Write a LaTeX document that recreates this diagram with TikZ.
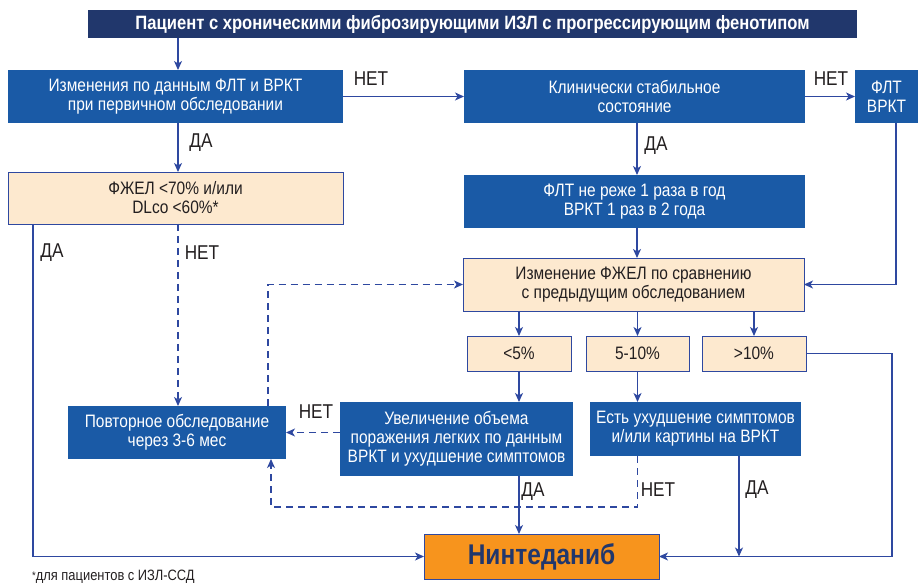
\documentclass[tikz,border=0pt]{standalone}
\usepackage{fontspec}
\setmainfont{Liberation Sans}[FakeStretch=0.86]
\usetikzlibrary{arrows.meta,calc}
\definecolor{navy}{HTML}{21376C}
\definecolor{boxblue}{HTML}{1A5AA6}
\definecolor{beige}{HTML}{FDE9CF}
\definecolor{lineblue}{HTML}{2E48A0}
\definecolor{orng}{HTML}{F7941D}
\definecolor{txt}{HTML}{231F20}
\begin{document}
\begin{tikzpicture}[x=1pt,y=1pt,
  base/.style={inner sep=0pt,outer sep=0pt,align=center,font=\fontsize{18}{19}\selectfont},
  bluebox/.style={base,fill=boxblue,text=white},
  beigebox/.style={base,fill=beige,draw=lineblue,line width=0.9pt,text=txt},
  titlebox/.style={base,fill=navy,text=white,font=\fontsize{19.3}{21}\selectfont\bfseries},
  finalbox/.style={base,fill=orng,draw=lineblue,line width=0.9pt,text=navy,font=\fontsize{28.5}{30}\selectfont\bfseries},
  lbl/.style={text=txt,font=\fontsize{20}{22}\selectfont,inner sep=0pt},
  arr/.style={draw=lineblue,line width=1.2pt,-{Stealth[length=9pt,width=8pt,inset=2.5pt]}},
  darr/.style={arr,dash pattern=on 7pt off 5pt},
]
\useasboundingbox (0,0) rectangle (919,-585);
\node[titlebox,minimum width=769pt,minimum height=28pt] (title) at (472.5,-24) {Пациент с хроническими фиброзирующими ИЗЛ с прогрессирующим фенотипом};
\node[bluebox,minimum width=335pt,minimum height=53pt] (A) at (175.5,-96.5) {Изменения по данным ФЛТ и ВРКТ\\при первичном обследовании};
\node[bluebox,minimum width=341pt,minimum height=53pt] (B) at (634.5,-96.5) {Клинически стабильное\\состояние};
\node[bluebox,minimum width=63pt,minimum height=53pt] (C) at (886.5,-96.5) {ФЛТ\\ВРКТ};
\node[beigebox,minimum width=335pt,minimum height=52pt] (F) at (175.5,-198) {ФЖЕЛ <70\% и/или\\DLco <60\%*};
\node[bluebox,minimum width=341pt,minimum height=53pt] (D) at (634.5,-201.5) {ФЛТ не реже 1 раза в год\\ВРКТ 1 раз в 2 года};
\node[beigebox,minimum width=341pt,minimum height=53pt] (E) at (633.5,-284.5) {Изменение ФЖЕЛ по сравнению\\с предыдущим обследованием};
\node[beigebox,minimum width=104pt,minimum height=35pt] (P1) at (519,-353.5) {<5\%};
\node[beigebox,minimum width=103pt,minimum height=35pt] (P2) at (637.5,-353.5) {5-10\%};
\node[beigebox,minimum width=104pt,minimum height=35pt] (P3) at (754,-353.5) {>10\%};
\node[bluebox,minimum width=218pt,minimum height=53pt] (G) at (177,-432.5) {Повторное обследование\\через 3-6 мес};
\node[bluebox,minimum width=233pt,minimum height=74pt] (H) at (456.5,-439) {Увеличение объема\\поражения легких по данным\\ВРКТ и ухудшение симптомов};
\node[bluebox,minimum width=211pt,minimum height=54pt] (I) at (695.5,-429) {Есть ухудшение симптомов\\и/или картины на ВРКТ};
\node[finalbox,minimum width=235pt,minimum height=45pt] (N) at (541.5,-556.5) {Нинтеданиб};
\node[anchor=west,inner sep=0pt,text=txt,font=\fontsize{15}{16}\selectfont] (foot) at (32,-577) {\raisebox{1pt}{\fontsize{11}{11}\selectfont *}для пациентов с ИЗЛ-ССД};

% connectors
\draw[arr] ([xshift=2.5pt]A.north |- title.south) -- ([xshift=2.5pt]A.north);
\draw[arr] (A.east) -- (B.west);
\draw[arr] (B.east) -- (C.west);
\draw[arr] ([xshift=2.5pt]A.south) -- ([xshift=2.5pt]F.north);
\draw[arr] ([xshift=2.5pt]B.south) -- ([xshift=2.5pt]D.north);
\draw[arr] ([xshift=2.5pt]D.south) -- ([xshift=2.5pt]D.south |- E.north);
\draw[arr] ([xshift=9.5pt]C.south) |- (E.east);
\draw[arr] (E.south -| P1.north) -- (P1.north);
\draw[arr] (E.south -| P2.north) -- (P2.north);
\draw[arr] (E.south -| P3.north) -- (P3.north);
\draw[arr] ([xshift=-142.5pt]F.south) |- (N.west);
\draw[darr] ([xshift=2.5pt]F.south) -- ([xshift=1pt]G.north);
\draw[darr] ([xshift=91pt]G.north) |- (E.west);
\draw[arr] (P1.south) -- (P1.south |- H.north);
\draw[arr] (P2.south) -- (P2.south |- I.north);
\draw[arr] (P3.east) -- ++(86pt,0) |- (N.east);
\draw[darr] (H.west |- G.east) -- (G.east);
\draw[arr] (P1.south |- H.south) -- (P1.south |- N.north);
\draw[arr] ([xshift=43.5pt]I.south) -- ([xshift=43.5pt]I.south |- N.east);
\draw[darr] (P2.south |- I.south) -- ++(0,-51pt) -| ([xshift=94pt]G.south);

% labels
\node[lbl] (l1) at (371,-79) {НЕТ};
\node[lbl] (l2) at (831,-79) {НЕТ};
\node[lbl] (l3) at (201,-143) {ДА};
\node[lbl] (l4) at (656,-146) {ДА};
\node[lbl] (l5) at (52,-253) {ДА};
\node[lbl] (l6) at (202,-253) {НЕТ};
\node[lbl] (l7) at (316,-412) {НЕТ};
\node[lbl] (l8) at (533,-492) {ДА};
\node[lbl] (l9) at (658,-490) {НЕТ};
\node[lbl] (l10) at (757,-490) {ДА};
\end{tikzpicture}
\end{document}
